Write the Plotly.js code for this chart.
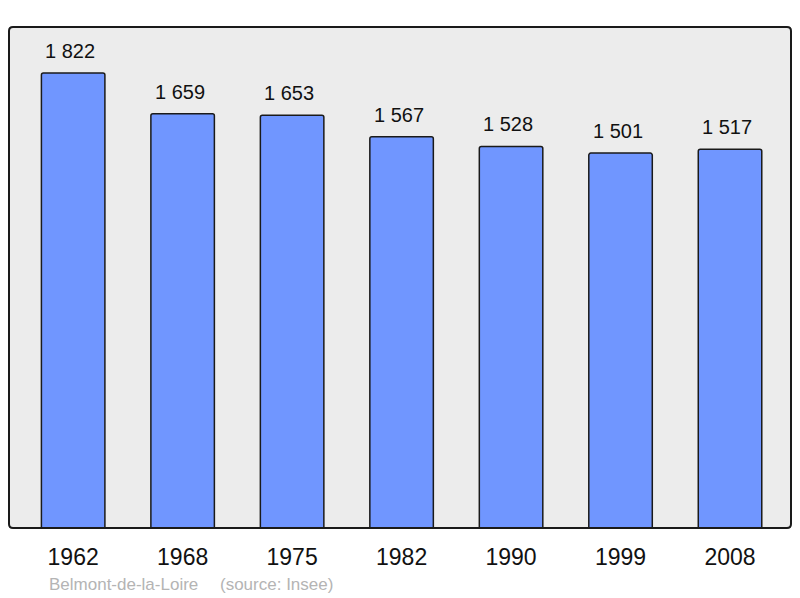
<!DOCTYPE html>
<html><head><meta charset="utf-8">
<script src="https://cdn.plot.ly/plotly-3.0.1.min.js"></script>
<style>html,body{margin:0;padding:0;background:#fff;}#c{width:800px;height:598px;}</style>
</head><body><div id="c"></div>
<script>
const years = ["1962","1968","1975","1982","1990","1999","2008"];
const population = [1822,1659,1653,1567,1528,1501,1517];
const labels = ["1 822","1 659","1 653","1 567","1 528","1 501","1 517"];
const commune = "Belmont-de-la-Loire";
const source = "(source: Insee)";

const idx = years.map((_, i) => i);
const font = "'Liberation Sans', Arial, sans-serif";

const trace = {
  type: "bar",
  x: idx,
  y: population,
  width: 0.58,
  marker: {color: "#7096ff", line: {color: "#1a1a1a", width: 1.5}, cornerradius: 2},
  hoverinfo: "skip"
};

const annotations = idx.map(i => ({
  x: i, y: population[i], xref: "x", yref: "y",
  text: labels[i], showarrow: false, yanchor: "bottom", yshift: 9, xshift: -3,
  font: {family: font, size: 20, color: "#111"}
}));
annotations.push({
  xref: "paper", yref: "paper", x: (47-9)/782, y: -0.112, xanchor: "left", yanchor: "middle",
  text: commune, showarrow: false,
  font: {family: font, size: 17, color: "#b4b4b4"}
});
annotations.push({
  xref: "paper", yref: "paper", x: (218-9)/782, y: -0.112, xanchor: "left", yanchor: "middle",
  text: source, showarrow: false,
  font: {family: font, size: 17, color: "#b4b4b4"}
});

// rounded frame path (paper coordinates)
const rx = 4/782, ry = 4/501;
const framePath = `M ${rx},0 L ${1-rx},0 Q 1,0 1,${ry} L 1,${1-ry} Q 1,1 ${1-rx},1 L ${rx},1 Q 0,1 0,${1-ry} L 0,${ry} Q 0,0 ${rx},0 Z`;

const layout = {
  width: 800, height: 598,
  margin: {l: 9, r: 9, t: 27, b: 70},
  paper_bgcolor: "#ffffff",
  plot_bgcolor: "#ececec",
  showlegend: false,
  xaxis: {
    range: [-0.586, 6.557], tickmode: "array", tickvals: idx, ticktext: years,
    showgrid: false, zeroline: false, showline: false, ticks: "",
    ticklabelstandoff: 13,
    tickfont: {family: font, size: 23, color: "#111"}, fixedrange: true
  },
  yaxis: {
    range: [0, 2006], showgrid: false, zeroline: false, showline: false,
    showticklabels: false, ticks: "", fixedrange: true
  },
  annotations: annotations,
  shapes: [{
    type: "path", xref: "paper", yref: "paper", path: framePath,
    line: {color: "#1a1a1a", width: 2}, fillcolor: "rgba(0,0,0,0)", layer: "above"
  }]
};

Plotly.newPlot("c", [trace], layout, {staticPlot: true, displayModeBar: false});
</script></body></html>
